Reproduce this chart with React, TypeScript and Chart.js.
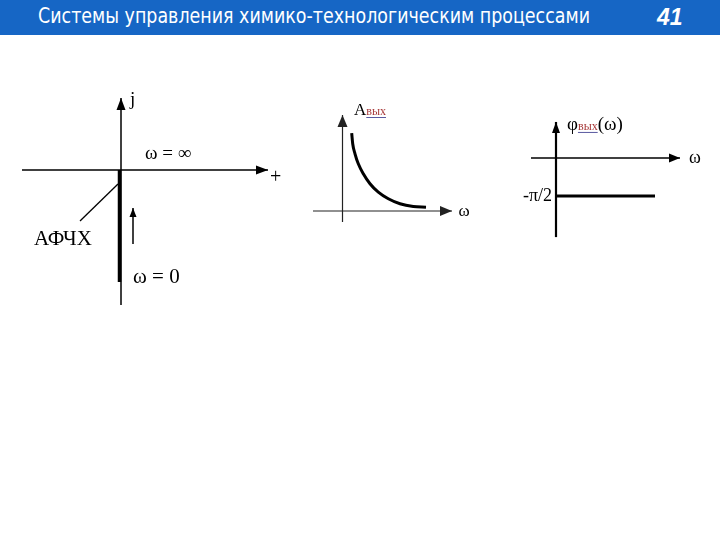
import React, { useEffect, useLayoutEffect, useRef } from "react";
import { Chart, registerables } from "chart.js";

Chart.register(...registerables);

// ---------- Slide title ----------
const TITLE = "Системы управления химико-технологическим процессами";
const SLIDE_NO = "41";

// ---------- Diagram 1: АФЧХ on the complex plane (Re, jIm) ----------
const d1ReAxisRe = [-0.99, 1.47];
const d1ReAxisIm = [0, 0];
const d1ImAxisRe = [0, 0];
const d1ImAxisIm = [-1.35, 0.72];
const d1AfchRe = [-0.015, -0.015];
const d1AfchIm = [0, -1.12]; // ω = ∞ at origin, ω = 0 towards -j∞
const d1LeaderRe = [-0.03, -0.41];
const d1LeaderIm = [-0.14, -0.51];
const d1DirRe = [0.12, 0.12];
const d1DirIm = [-0.74, -0.38];

// ---------- Diagram 2: amplitude A(ω) ----------
const d2WAxisW = [-2.95, 10.95];
const d2WAxisA = [0, 0];
const d2AAxisW = [0, 0];
const d2AAxisA = [-1.1, 9.6];
const d2CurveW = [0.92, 1.02, 1.25, 1.58, 2.08, 2.75, 3.58, 4.58, 5.75, 7.08, 8.35];
const d2CurveA = [7.78, 6.72, 5.72, 4.72, 3.72, 2.72, 1.88, 1.22, 0.72, 0.45, 0.38];

// ---------- Diagram 3: phase φ(ω) ----------
const d3WAxisW = [-2.5, 12.4];
const d3WAxisPhi = [0, 0];
const d3PhiAxisW = [0, 0];
const d3PhiAxisPhi = [-3.27, 1.49];
const d3PhaseW = [0, 9.9];
const d3PhaseValue = -Math.PI / 2;

// ---------- layout (frames: origin in px + px per unit) ----------
const W = 720;
const H = 540;
const frames: Record<string, { ox: number; oy: number; sx: number; sy: number }> = {
  "1": { ox: 121, oy: 170, sx: 100, sy: 100 },
  "2": { ox: 342.5, oy: 211, sx: 10, sy: 10 },
  "3": { ox: 556, oy: 158, sx: 10, sy: 24.19 },
};

const SERIF = '"Liberation Serif", "Times New Roman", serif';
const SUB_COLOR = "#a83a3a";

type Part = { t: string; size: number; color?: string; underline?: boolean };
type Label = { f: string; x: number; y: number; align?: "left" | "right"; parts: Part[] };

const labels: Label[] = [
  { f: "1", x: 0.09, y: 0.65, parts: [{ t: "j", size: 19 }] },
  { f: "1", x: 0.24, y: 0.11, parts: [{ t: "ω = ∞", size: 19 }] },
  { f: "1", x: 1.49, y: -0.13, parts: [{ t: "+", size: 20 }] },
  { f: "1", x: -0.87, y: -0.75, parts: [{ t: "АФЧХ", size: 21 }] },
  { f: "1", x: 0.12, y: -1.13, parts: [{ t: "ω = 0", size: 21 }] },
  {
    f: "2",
    x: 1.15,
    y: 9.6,
    parts: [
      { t: "A", size: 17 },
      { t: "вых", size: 12, color: SUB_COLOR, underline: true },
    ],
  },
  { f: "2", x: 11.6, y: -0.5, parts: [{ t: "ω", size: 17 }] },
  {
    f: "3",
    x: 1.1,
    y: 1.16,
    parts: [
      { t: "φ", size: 19 },
      { t: "вых", size: 12, color: SUB_COLOR, underline: true },
      { t: "(ω)", size: 19 },
    ],
  },
  { f: "3", x: -0.4, y: -1.78, align: "right", parts: [{ t: "-π/2", size: 18 }] },
  { f: "3", x: 13.3, y: -0.21, parts: [{ t: "ω", size: 18 }] },
];

function seg(
  xs: number[],
  ys: number[],
  f: string,
  width: number,
  color: string,
  arrow?: { len: number; hw: number },
  smooth = false
) {
  return {
    data: xs.map((x, i) => ({ x, y: ys[i] })),
    xAxisID: "x" + f,
    yAxisID: "y" + f,
    borderColor: color,
    borderWidth: width,
    pointRadius: 0,
    fill: false,
    tension: smooth ? 0.4 : 0,
    cubicInterpolationMode: smooth ? "monotone" : "default",
    borderCapStyle: "butt",
    arrow,
  } as any;
}

const arrowPlugin = {
  id: "arrowHeads",
  afterDatasetsDraw(chart: any) {
    const ctx = chart.ctx;
    chart.data.datasets.forEach((ds: any, i: number) => {
      if (!ds.arrow) return;
      const pts = chart.getDatasetMeta(i).data;
      const a = pts[pts.length - 2];
      const b = pts[pts.length - 1];
      const ang = Math.atan2(b.y - a.y, b.x - a.x);
      const { len, hw } = ds.arrow;
      const bx = b.x - len * Math.cos(ang);
      const by = b.y - len * Math.sin(ang);
      const px = -Math.sin(ang) * hw;
      const py = Math.cos(ang) * hw;
      ctx.save();
      ctx.fillStyle = ds.borderColor;
      ctx.beginPath();
      ctx.moveTo(b.x, b.y);
      ctx.lineTo(bx + px, by + py);
      ctx.lineTo(bx - px, by - py);
      ctx.closePath();
      ctx.fill();
      ctx.restore();
    });
  },
};

const labelPlugin = {
  id: "diagramLabels",
  afterDatasetsDraw(chart: any) {
    const ctx = chart.ctx;
    ctx.save();
    ctx.textBaseline = "alphabetic";
    ctx.textAlign = "left";
    for (const lb of labels) {
      let px = chart.scales["x" + lb.f].getPixelForValue(lb.x);
      const py = chart.scales["y" + lb.f].getPixelForValue(lb.y);
      const widths = lb.parts.map((p) => {
        ctx.font = `${p.size}px ${SERIF}`;
        return ctx.measureText(p.t).width;
      });
      const total = widths.reduce((s, w) => s + w, 0);
      if (lb.align === "right") px -= total;
      lb.parts.forEach((p, k) => {
        ctx.font = `${p.size}px ${SERIF}`;
        ctx.fillStyle = p.color || "#000";
        ctx.fillText(p.t, px, py);
        if (p.underline) {
          ctx.strokeStyle = "#5a5aa0";
          ctx.lineWidth = 1;
          ctx.beginPath();
          ctx.moveTo(px, py + 2.5);
          ctx.lineTo(px + widths[k], py + 2.5);
          ctx.stroke();
        }
        px += widths[k];
      });
    }
    ctx.restore();
  },
};

function buildScales() {
  const scales: any = {};
  Object.keys(frames).forEach((f) => {
    const { ox, oy, sx, sy } = frames[f];
    scales["x" + f] = { type: "linear", display: false, min: -ox / sx, max: (W - ox) / sx };
    scales["y" + f] = { type: "linear", display: false, min: (oy - H) / sy, max: oy / sy };
  });
  return scales;
}

function TitleBar() {
  const ref = useRef<HTMLSpanElement>(null);
  useLayoutEffect(() => {
    const el = ref.current;
    if (!el) return;
    el.style.transform = "none";
    const w = el.getBoundingClientRect().width;
    if (w > 0) el.style.transform = `scaleX(${552 / w})`;
  }, []);
  return (
    <div
      style={{
        position: "absolute",
        left: 0,
        top: 0,
        width: W,
        height: 35,
        background: "#1666c5",
      }}
    >
      <span
        ref={ref}
        style={{
          position: "absolute",
          left: 38,
          top: 6,
          fontFamily: '"Liberation Sans Narrow", "DejaVu Sans Condensed", "Liberation Sans", sans-serif',
          fontSize: 21,
          lineHeight: "21px",
          color: "#fff",
          whiteSpace: "nowrap",
          transformOrigin: "0 0",
        }}
      >
        {TITLE}
      </span>
      <span
        style={{
          position: "absolute",
          left: 657,
          top: 5,
          fontFamily: '"Liberation Sans", Arial, sans-serif',
          fontWeight: "bold",
          fontStyle: "italic",
          fontSize: 23,
          lineHeight: "24px",
          color: "#fff",
        }}
      >
        {SLIDE_NO}
      </span>
    </div>
  );
}

export default function App() {
  const canvasRef = useRef<HTMLCanvasElement>(null);
  useEffect(() => {
    const datasets = [
      // diagram 1
      seg(d1ReAxisRe, d1ReAxisIm, "1", 1.5, "#000", { len: 12, hw: 4.5 }),
      seg(d1ImAxisRe, d1ImAxisIm, "1", 1.5, "#000", { len: 12, hw: 4.5 }),
      seg(d1AfchRe, d1AfchIm, "1", 3.5, "#000"),
      seg(d1LeaderRe, d1LeaderIm, "1", 1.3, "#000"),
      seg(d1DirRe, d1DirIm, "1", 1.5, "#000", { len: 9, hw: 3.5 }),
      // diagram 2
      seg(d2WAxisW, d2WAxisA, "2", 1.2, "#222", { len: 12, hw: 5 }),
      seg(d2AAxisW, d2AAxisA, "2", 1.2, "#222", { len: 12, hw: 5 }),
      seg(d2CurveW, d2CurveA, "2", 3, "#000", undefined, true),
      // diagram 3
      seg(d3WAxisW, d3WAxisPhi, "3", 1.5, "#000", { len: 11, hw: 4.5 }),
      seg(d3PhiAxisW, d3PhiAxisPhi, "3", 2.2, "#000", { len: 11, hw: 4 }),
      seg(d3PhaseW, [d3PhaseValue, d3PhaseValue], "3", 3, "#000"),
    ];
    const chart = new Chart(canvasRef.current as HTMLCanvasElement, {
      type: "line",
      data: { datasets },
      options: {
        animation: false,
        responsive: false,
        events: [],
        layout: { padding: 0 },
        scales: buildScales(),
        plugins: { legend: { display: false }, tooltip: { enabled: false } },
      } as any,
      plugins: [arrowPlugin, labelPlugin],
    });
    return () => chart.destroy();
  }, []);
  return (
    <div style={{ position: "absolute", left: 0, top: 0, width: W, height: H, background: "#fff" }}>
      <canvas
        ref={canvasRef}
        width={W}
        height={H}
        style={{ position: "absolute", left: 0, top: 0, width: W, height: H }}
      />
      <TitleBar />
    </div>
  );
}
